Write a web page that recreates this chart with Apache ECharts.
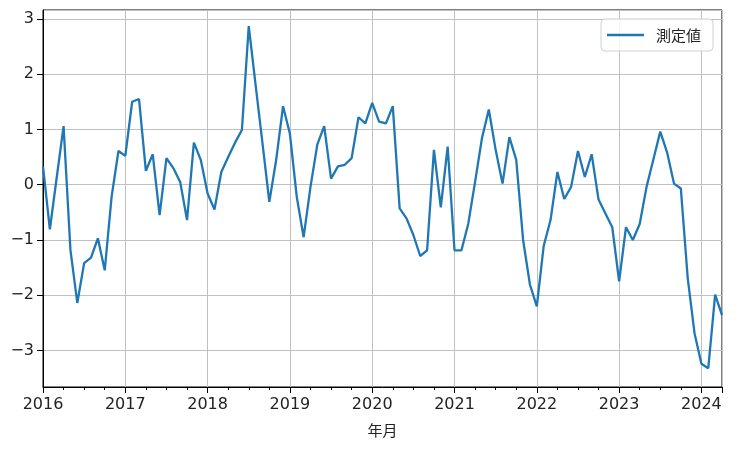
<!DOCTYPE html>
<html lang="ja">
<head>
    <meta charset="UTF-8">
    <title>測定値</title>
    <style>
        html, body { margin: 0; padding: 0; background: #fff; }
        #chart { width: 741px; height: 454px; }
    </style>
</head>
<body>
<div id="chart"></div>
<script src="https://cdn.jsdelivr.net/npm/echarts@6/dist/echarts.min.js"></script>
<script>
// 2016-01 から 2024-04 までの月次データ
var startYear = 2016;
var yearTicks = ['2016', '2017', '2018', '2019', '2020', '2021', '2022', '2023', '2024'];
var values = [
    0.33, -0.81, 0.13, 1.06, -1.18, -2.14, -1.42, -1.32, -0.97, -1.55, -0.22, 0.61,
    0.52, 1.50, 1.55, 0.25, 0.55, -0.55, 0.48, 0.30, 0.05, -0.64, 0.76, 0.45,
    -0.16, -0.45, 0.23, 0.50, 0.76, 0.99, 2.87, 1.80, 0.75, -0.31, 0.45, 1.42,
    0.92, -0.22, -0.95, -0.04, 0.73, 1.06, 0.11, 0.33, 0.36, 0.48, 1.22, 1.11,
    1.48, 1.14, 1.11, 1.42, -0.43, -0.61, -0.91, -1.29, -1.19, 0.63, -0.41, 0.69,
    -1.19, -1.19, -0.71, 0.05, 0.84, 1.36, 0.63, 0.02, 0.86, 0.45, -1.00, -1.81,
    -2.20, -1.11, -0.64, 0.23, -0.26, -0.04, 0.61, 0.14, 0.55, -0.27, -0.52, -0.77,
    -1.75, -0.77, -1.00, -0.71, -0.04, 0.46, 0.96, 0.58, 0.02, -0.07, -1.69, -2.69,
    -3.24, -3.32, -1.99, -2.36
];

var points = [];
for (var i = 0; i < values.length; i++) {
    points.push([i, values[i]]);
}

var numFont = 'DejaVu Sans';
var jpFont = '"Noto Sans CJK JP", "DejaVu Sans"';

var chart = echarts.init(document.getElementById('chart'), null, { renderer: 'canvas' });
var option = {
    animation: false,
    backgroundColor: '#fff',
    grid: {
        left: 43, right: 19, top: 10, bottom: 67,
        show: true, borderColor: '#000', borderWidth: 1, backgroundColor: 'transparent'
    },
    legend: {
        right: 28, top: 19,
        padding: [8, 12, 8, 6],
        itemWidth: 37, itemHeight: 2.5,
        borderColor: '#d0d0d0', borderWidth: 1, borderRadius: 4,
        backgroundColor: 'rgba(255,255,255,0.85)',
        textStyle: { fontFamily: jpFont, fontSize: 15, color: '#222', padding: [0, 0, 0, 7], lineHeight: 16 },
        data: [{ name: '測定値', icon: 'rect' }]
    },
    xAxis: {
        type: 'value',
        min: 0, max: values.length - 1,
        interval: 12,
        name: '年月', nameLocation: 'middle', nameGap: 36,
        nameTextStyle: { fontFamily: jpFont, fontSize: 15, color: '#222' },
        axisLine: { onZero: false, lineStyle: { color: '#000', width: 1 } },
        axisTick: { show: true, length: 6, lineStyle: { color: '#000' } },
        minorTick: { show: true, splitNumber: 4, length: 3, lineStyle: { color: '#000' } },
        axisLabel: {
            margin: 10, fontFamily: numFont, fontSize: 16, color: '#222',
            formatter: function (v) { return yearTicks[Math.round(v / 12)] || ''; }
        },
        splitLine: { show: true, lineStyle: { color: '#c0c0c0', width: 1 } }
    },
    yAxis: {
        type: 'value',
        min: -3.66, max: 3.16,
        splitNumber: 7,
        axisLine: { show: true, onZero: false, lineStyle: { color: '#000', width: 1 } },
        axisTick: { show: true, length: 6, lineStyle: { color: '#000' } },
        axisLabel: {
            margin: 9, fontFamily: numFont, fontSize: 16, color: '#222',
            showMinLabel: false, showMaxLabel: false,
            formatter: function (v) {
                if (Math.abs(v - Math.round(v)) > 1e-6) return '';
                return String(Math.round(v)).replace('-', '\u2212');
            }
        },
        splitLine: { show: true, lineStyle: { color: '#c0c0c0', width: 1 } }
    },
    series: [{
        name: '測定値',
        type: 'line',
        data: points,
        symbol: 'none',
        lineStyle: { color: '#1f77b4', width: 2.3 },
        itemStyle: { color: '#1f77b4' }
    }]
};
chart.setOption(option);
</script>
</body>
</html>
